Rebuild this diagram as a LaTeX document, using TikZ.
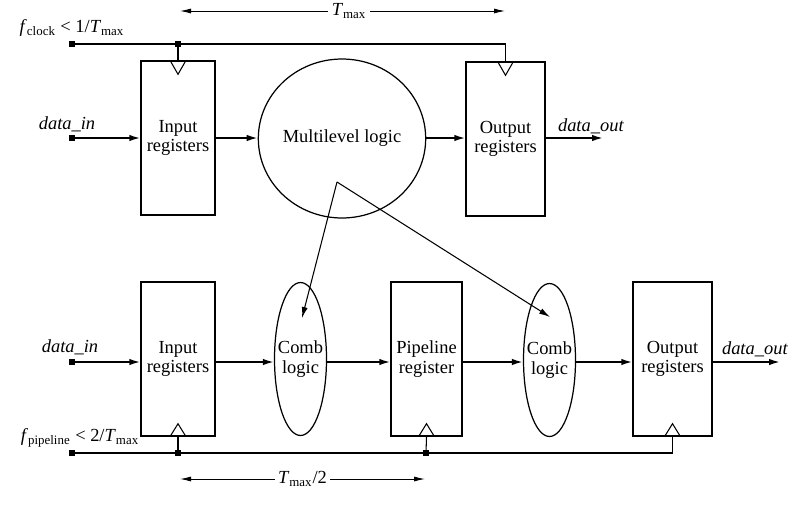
\documentclass[tikz,border=0pt]{standalone}
\usepackage{fontspec}
\setmainfont{Liberation Serif}
\usetikzlibrary{shapes.geometric,arrows.meta,calc}
\newcommand{\sig}[1]{\textit{#1}}

\begin{document}
\begin{tikzpicture}[x=0.02cm,y=-0.02cm,
    font=\fontsize{10.5}{11}\selectfont,
    reg/.style={draw,line width=0.8pt,minimum height=3.08cm,align=center,inner sep=0pt},
    comb/.style={draw,ellipse,line width=0.7pt,minimum width=1.04cm,minimum height=3.06cm,inner sep=0pt},
    term/.style={fill,minimum size=1.1mm,inner sep=0pt},
    data/.style={line width=1pt,-{Latex[length=2.2mm,width=1.3mm]}},
    clk/.style={line width=0.6pt},
    dim/.style={line width=0.5pt,{Latex[length=2.2mm,width=1mm]}-{Latex[length=2.2mm,width=1mm]}}]
  \useasboundingbox (0,0) rectangle (793,511);

  % single stage
  \node[reg,minimum width=1.48cm] (in1) at (178,138) {Input\\registers};
  \node[draw,ellipse,line width=0.7pt,minimum width=2.76cm,minimum height=3.18cm,inner sep=0pt] (ml) at (342,138.5) {Multilevel logic};
  \node[reg,minimum width=1.58cm] (out1) at (505.5,139) {Output\\registers};
  \node[term] (din1) at (72,138) {};
  \coordinate (dout1) at (603,138);
  \node[term] (clk1) at (72,44) {};
  \node[term] (j1) at (178,44) {};
  \node (fclk) at (72,28) {\sig{f}\textsubscript{clock} < 1/\sig{T}\textsubscript{max}};
  \node (lin1) at (67,124) {\sig{data\_in}};
  \node (lout1) at (591,126) {\sig{data\_out}};

  \draw[data] (din1.center) -- (in1.west |- din1);
  \draw[data] (in1.east |- din1) -- (ml.west |- din1);
  \draw[data] (ml.east |- din1) -- (out1.west |- din1);
  \draw[data] (out1.east |- dout1) -- (dout1);
  \draw[clk] (clk1.center) -- (out1.north |- clk1) -- (out1.north);
  \draw[clk] (j1.center) -- (in1.north);
  \foreach \r in {in1,out1}
    \draw[clk] ($(\r.north)+(-8,0)$) -- ($(\r.north)+(0,14)$) -- ($(\r.north)+(8,0)$);

  \coordinate (ta) at (180,11);
  \coordinate (tb) at (505,11);
  \draw[dim] (ta) -- node[pos=0.52,fill=white,inner sep=2pt] {\sig{T}\textsubscript{max}} (tb);

  % pipelined
  \node[reg,minimum width=1.48cm] (in2) at (178,359) {Input\\registers};
  \node[comb] (cb1) at (300.5,359) {};
  \node[align=center] (cb1t) at (cb1) {Comb\\logic};
  \node[reg,minimum width=1.42cm] (pipe) at (426.5,359) {Pipeline\\register};
  \node[comb] (cb2) at (549.5,360) {};
  \node[align=center] (cb2t) at (cb2) {Comb\\logic};
  \node[reg,minimum width=1.58cm] (out2) at (672.5,359) {Output\\registers};
  \node[term] (din2) at (72,362) {};
  \coordinate (dout2) at (780,362);
  \node[term] (clk2) at (72,453) {};
  \node[term] (j2) at (178,453) {};
  \node[term] (j3) at (426,453) {};
  \node (fpipe) at (80,438) {\sig{f}\textsubscript{pipeline} < 2/\sig{T}\textsubscript{max}};
  \node (lin2) at (70,347) {\sig{data\_in}};
  \node (lout2) at (755,349) {\sig{data\_out}};

  \draw[data] (din2.center) -- (in2.west |- din2);
  \draw[data] (in2.east |- din2) -- (cb1.west |- din2);
  \draw[data] (cb1.east |- din2) -- (pipe.west |- din2);
  \draw[data] (pipe.east |- din2) -- (cb2.west |- din2);
  \draw[data] (cb2.east |- din2) -- (out2.west |- din2);
  \draw[data] (out2.east |- dout2) -- (dout2);
  \draw[clk] (clk2.center) -- (out2.south |- clk2) -- (out2.south);
  \draw[clk] (j2.center) -- (in2.south);
  \draw[clk] (j3.center) -- (pipe.south);
  \foreach \r in {in2,pipe,out2}
    \draw[clk] ($(\r.south)+(-8,0)$) -- ($(\r.south)+(0,-13)$) -- ($(\r.south)+(8,0)$);

  \coordinate (tc) at (180,479);
  \coordinate (td) at (425,479);
  \draw[dim] (tc) -- node[fill=white,inner sep=2pt] {\sig{T}\textsubscript{max}/2} (td);

  % split of the logic
  \coordinate (apex) at (337,182);
  \coordinate (s1) at (302,318);
  \coordinate (s2) at (550,317);
  \draw[line width=0.6pt,-{Latex[length=2.2mm,width=1.2mm]}] (apex) -- (s1);
  \draw[line width=0.6pt,-{Latex[length=2.2mm,width=1.2mm]}] (apex) -- (s2);
\end{tikzpicture}
\end{document}
